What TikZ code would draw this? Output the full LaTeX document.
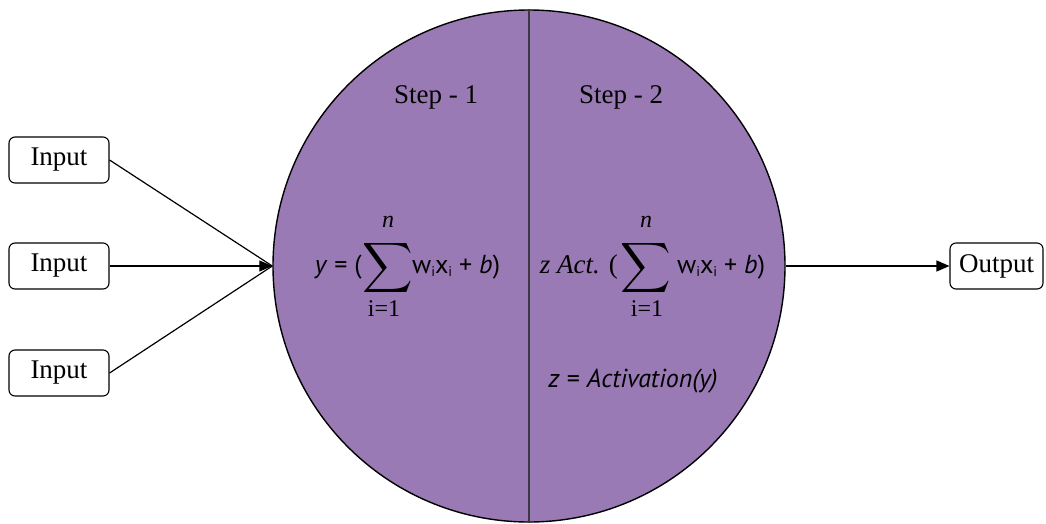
\documentclass[tikz,border=0pt]{standalone}
\usepackage{graphicx}
\usepackage{fontspec}
\setmainfont{Liberation Serif}
\setsansfont{PT Sans}
\usetikzlibrary{arrows.meta}
\definecolor{neuronfill}{RGB}{153,122,180}
\definecolor{divider}{RGB}{60,55,65}
\tikzset{
  iobox/.style={draw, rounded corners=6pt, line width=1.1pt, minimum height=46pt, inner sep=0pt, font=\fontsize{27}{30}\selectfont},
  conn/.style={line width=1.2pt},
  arrowconn/.style={line width=1.2pt, -{Triangle[length=13pt,width=11pt]}},
  steptxt/.style={inner sep=0pt, font=\fontsize{27}{30}\selectfont},
  sftxt/.style={inner sep=0pt, font=\sffamily\fontsize{26}{30}\selectfont},
  bigsum/.style={inner sep=0pt},
  limtxt/.style={inner sep=0pt, font=\fontsize{24}{26}\selectfont}
}
\newcommand{\subi}{\raisebox{-3pt}{\fontsize{14}{15}\selectfont i}}
\newcommand{\bigsigma}{\scalebox{3.5}{$\displaystyle\sum$}}
\begin{document}
\begin{tikzpicture}[x=1pt,y=-1pt]
\useasboundingbox (0,0) rectangle (1046,523);
% neuron
\node[circle, draw, fill=neuronfill, line width=1.4pt, minimum size=512pt, inner sep=0pt] (neuron) at (529,266) {};
\draw[line width=1.4pt, divider] (neuron.north) -- (neuron.south);
% boxes
\node[iobox, minimum width=100pt] (in1) at (59,160) {Input};
\node[iobox, minimum width=100pt] (in2) at (59,266) {Input};
\node[iobox, minimum width=100pt] (in3) at (59,373) {Input};
\node[iobox, minimum width=93pt] (out) at (996.5,266) {Output};
% connectors
\draw[conn] (in1.east) -- (neuron.west);
\draw[conn] (in3.east) -- (neuron.west);
\draw[arrowconn] (in2.east) -- (neuron.west);
\draw[arrowconn] (neuron.east) -- (out.west);
% step labels
\node[steptxt] (s1) at (436,97) {Step - 1};
\node[steptxt] (s2) at (621,97) {Step - 2};
% equation 1
\node[sftxt, anchor=east] (e1a) at (362,267) {\textit{y} = (};
\node[bigsum] (sum1) at (388,268) {\bigsigma};
\node[limtxt] (n1) at (388,222) {\textit{n}};
\node[limtxt] (i1) at (384,309) {i=1};
\node[sftxt, anchor=west] (e1b) at (412,267) {w\subi x\subi{} + \textit{b})};
% equation 2
\node[steptxt, anchor=east] (e2a) at (618,267) {\textit{z Act.} (};
\node[bigsum] (sum2) at (646,268) {\bigsigma};
\node[limtxt] (n2) at (646,222) {\textit{n}};
\node[limtxt] (i2) at (647,309) {i=1};
\node[sftxt, anchor=west] (e2b) at (677,267) {w\subi x\subi{} + \textit{b})};
\node[sftxt] (act) at (633,381) {\textit{z} = \textit{Activation(y)}};
\end{tikzpicture}
\end{document}
